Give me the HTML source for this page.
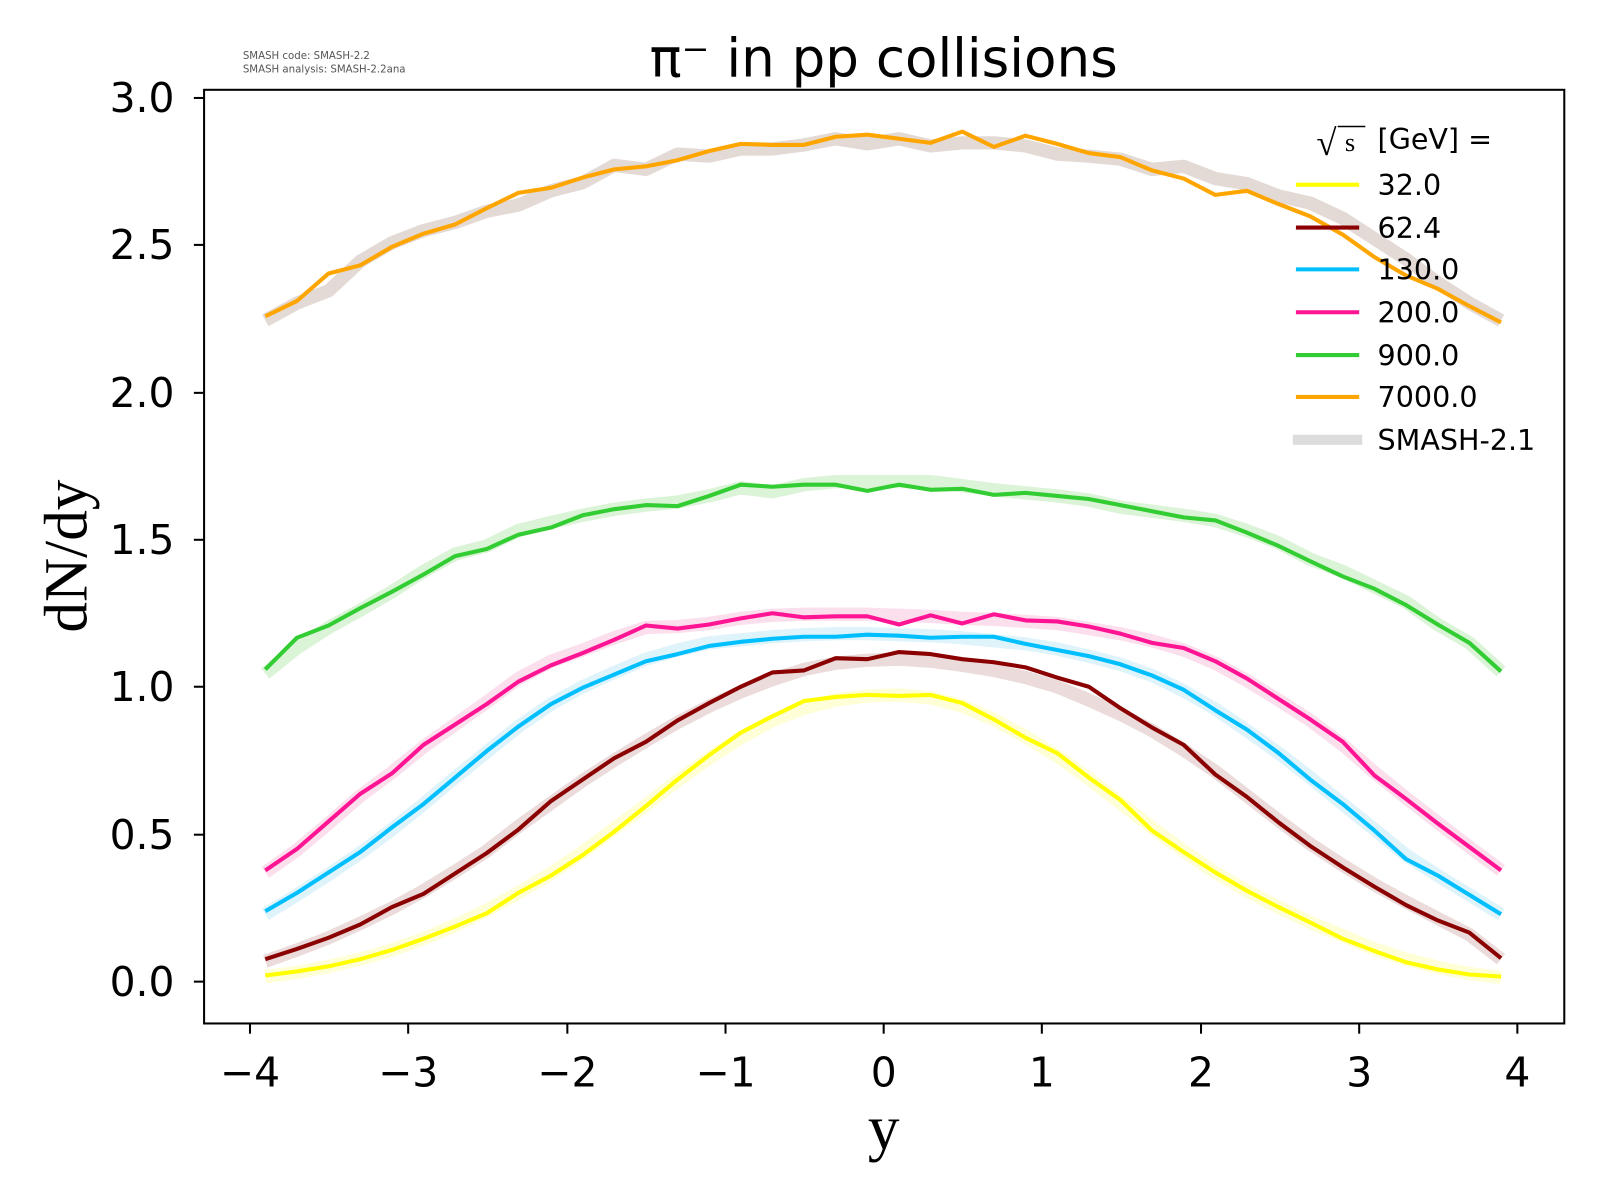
<!DOCTYPE html>
<html><head><meta charset="utf-8"><style>
html,body{margin:0;padding:0;background:#fff;}
svg{display:block;}
text{font-family:"DejaVu Sans","Liberation Sans",sans-serif;}
</style></head><body>
<svg width="1600" height="1200" viewBox="0 0 1568 1176" preserveAspectRatio="none" xmlns="http://www.w3.org/2000/svg">
<rect width="1568" height="1176" fill="#fff"/>
<g fill="none" stroke-linejoin="round" stroke-linecap="butt">
<g stroke-width="13" opacity="0.5">
<polyline stroke="#c8b4ac" points="260,314 291,297 322,285 353,256 384,238 415,226 446,218 477,207 508,201 540,187 571,179 602,162 633,166 664,151 695,153 726,146 757,146 788,142 819,136 850,141 881,136 912,143 943,140 974,140 1005,143 1036,151 1067,153 1098,156 1129,166 1160,163 1191,175 1222,180 1253,192 1284,199 1316,214 1347,234 1378,254 1409,277 1440,297 1471,314"/>
<polyline stroke="#b8e8b0" points="260,660 291,635 322,615 353,598 384,580 415,560 446,543 477,535 508,520 540,512 571,505 602,499 633,495 664,492 695,486 726,478 757,482 788,475 819,472 850,472 881,472 912,472 943,476 974,480 1005,483 1036,486 1067,490 1098,497 1129,501 1160,505 1191,510 1222,520 1253,532 1284,548 1316,560 1347,575 1378,590 1409,612 1440,630 1471,658"/>
<polyline stroke="#f8c0dc" points="260,855 291,833 322,807 353,780 384,757 415,732 446,710 477,688 508,665 540,648 571,637 602,625 633,615 664,614 695,611 726,606 757,603 788,602 819,602 850,602 881,603 912,604 943,606 974,607 1005,609 1036,611 1067,616 1098,621 1129,628 1160,637 1191,650 1222,667 1253,686 1284,706 1316,730 1347,757 1378,782 1409,806 1440,830 1471,853"/>
<polyline stroke="#c0e8f8" points="260,896 291,877 322,857 353,836 384,813 415,788 446,762 477,737 508,712 540,690 571,673 602,659 633,646 664,637 695,630 726,627 757,624 788,622 819,621 850,621 881,622 912,623 943,625 974,628 1005,631 1036,636 1067,643 1098,651 1129,662 1160,677 1191,695 1222,716 1253,738 1284,762 1316,788 1347,813 1378,838 1409,858 1440,877 1471,896"/>
<polyline stroke="#d8b8b8" points="260,942 291,931 322,919 353,905 384,890 415,873 446,854 477,834 508,810 540,787 571,765 602,745 633,726 664,708 695,692 726,678 757,666 788,656 819,650 850,647 881,646 912,648 943,652 974,657 1005,664 1036,673 1067,686 1098,700 1129,716 1160,735 1191,756 1222,780 1253,804 1284,827 1316,848 1347,867 1378,884 1409,900 1440,916 1471,940"/>
<polyline stroke="#ffffb0" points="260,957 291,953 322,947 353,940 384,931 415,920 446,907 477,892 508,875 540,856 571,835 602,812 633,789 664,765 695,743 726,723 757,706 788,694 819,686 850,682 881,681 912,684 943,692 974,705 1005,722 1036,741 1067,763 1098,787 1129,811 1160,834 1191,855 1222,873 1253,889 1284,904 1316,917 1347,930 1378,940 1409,948 1440,954 1471,958"/>
</g>
<g stroke-width="4">
<polyline stroke="#ffff00" points="260,956 291,952 322,947 353,940 384,931 415,920 446,908 477,895 508,875 540,858 571,838 602,815 633,790 664,764 695,740 726,718 757,702 788,687 819,683 850,681 881,682 912,681 943,689 974,705 1005,723 1036,738 1067,762 1098,784 1129,814 1160,835 1191,855 1222,873 1253,889 1284,904 1316,920 1347,932 1378,943 1409,950 1440,955 1471,957"/>
<polyline stroke="#8b0000" points="260,940 291,930 322,919 353,906 384,889 415,876 446,856 477,836 508,813 540,785 571,764 602,743 633,727 664,706 695,689 726,673 757,659 788,657 819,645 850,646 881,639 912,641 943,646 974,649 1005,654 1036,664 1067,673 1098,694 1129,713 1160,730 1191,759 1222,781 1253,806 1284,829 1316,850 1347,869 1378,887 1409,902 1440,914 1471,939"/>
<polyline stroke="#00bfff" points="260,893 291,875 322,855 353,835 384,811 415,788 446,762 477,736 508,712 540,690 571,674 602,661 633,648 664,641 695,633 726,629 757,626 788,624 819,624 850,622 881,623 912,625 943,624 974,624 1005,631 1036,637 1067,643 1098,651 1129,662 1160,676 1191,696 1222,715 1253,738 1284,764 1316,788 1347,814 1378,842 1409,858 1440,877 1471,896"/>
<polyline stroke="#ff1493" points="260,853 291,832 322,805 353,778 384,758 415,730 446,710 477,690 508,668 540,652 571,640 602,627 633,613 664,616 695,612 726,606 757,601 788,605 819,604 850,604 881,612 912,603 943,611 974,602 1005,608 1036,609 1067,614 1098,621 1129,630 1160,635 1191,648 1222,665 1253,685 1284,705 1316,727 1347,760 1378,783 1409,807 1440,830 1471,853"/>
<polyline stroke="#32cd32" points="260,656 291,625 322,613 353,596 384,580 415,563 446,545 477,538 508,524 540,517 571,505 602,499 633,495 664,496 695,486 726,475 757,477 788,475 819,475 850,481 881,475 912,480 943,479 974,485 1005,483 1036,486 1067,489 1098,495 1129,501 1160,507 1191,510 1222,522 1253,535 1284,550 1316,565 1347,577 1378,593 1409,612 1440,630 1471,658"/>
<polyline stroke="#ffa500" points="260,310 291,295 322,268 353,260 384,242 415,229 446,220 477,204 508,189 540,184 571,174 602,166 633,163 664,157 695,148 726,141 757,142 788,142 819,134 850,132 881,136 912,140 943,129 974,144 1005,133 1036,141 1067,150 1098,154 1129,167 1160,175 1191,191 1222,187 1253,200 1284,212 1316,230 1347,252 1378,270 1409,283 1440,300 1471,316"/>
</g>
</g>
<rect x="200" y="88" width="1333" height="915" fill="none" stroke="#000" stroke-width="2"/>
<g stroke="#000" stroke-width="2">
<line x1="245" y1="1003" x2="245" y2="1013"/><line x1="400" y1="1003" x2="400" y2="1013"/><line x1="556" y1="1003" x2="556" y2="1013"/><line x1="711" y1="1003" x2="711" y2="1013"/><line x1="866" y1="1003" x2="866" y2="1013"/><line x1="1021" y1="1003" x2="1021" y2="1013"/><line x1="1177" y1="1003" x2="1177" y2="1013"/><line x1="1332" y1="1003" x2="1332" y2="1013"/><line x1="1487" y1="1003" x2="1487" y2="1013"/>
<line x1="190" y1="962" x2="200" y2="962"/><line x1="190" y1="818" x2="200" y2="818"/><line x1="190" y1="673" x2="200" y2="673"/><line x1="190" y1="529" x2="200" y2="529"/><line x1="190" y1="385" x2="200" y2="385"/><line x1="190" y1="240" x2="200" y2="240"/><line x1="190" y1="96" x2="200" y2="96"/>
</g>
<g font-size="40" text-anchor="middle" fill="#000">
<text x="245" y="1065">−4</text><text x="400" y="1065">−3</text><text x="556" y="1065">−2</text><text x="711" y="1065">−1</text><text x="866" y="1065">0</text><text x="1021" y="1065">1</text><text x="1177" y="1065">2</text><text x="1332" y="1065">3</text><text x="1487" y="1065">4</text>
</g>
<g font-size="40" text-anchor="end" fill="#000">
<text x="171" y="976">0.0</text><text x="171" y="832">0.5</text><text x="171" y="687">1.0</text><text x="171" y="543">1.5</text><text x="171" y="399">2.0</text><text x="171" y="254">2.5</text><text x="171" y="110">3.0</text>
</g>
<text x="866" y="1126" font-size="62" text-anchor="middle" style="font-family:'Liberation Serif',serif">y</text>
<text transform="translate(85,545) rotate(-90)" font-size="60" text-anchor="middle" style="font-family:'Liberation Serif',serif">dN/dy</text>
<text x="866" y="75" font-size="52" text-anchor="middle">π⁻ in pp collisions</text>
<g font-size="10" fill="#555"><text x="238" y="58">SMASH code:      SMASH-2.2</text><text x="238" y="71">SMASH analysis: SMASH-2.2ana</text></g>
<g font-size="28" fill="#000">
<text x="1290" y="152" style="font-family:'Liberation Serif',serif" font-size="36">√</text>
<line x1="1311" y1="124" x2="1338" y2="124" stroke="#000" stroke-width="1.5"/>
<text x="1318" y="148" style="font-family:'Liberation Serif',serif" font-size="26">s</text>
<text x="1350" y="146">[GeV] =</text>
<line x1="1270" y1="181" x2="1332" y2="181" stroke="#ffff00" stroke-width="4"/><text x="1350" y="191">32.0</text>
<line x1="1270" y1="223" x2="1332" y2="223" stroke="#8b0000" stroke-width="4"/><text x="1350" y="233">62.4</text>
<line x1="1270" y1="264" x2="1332" y2="264" stroke="#00bfff" stroke-width="4"/><text x="1350" y="274">130.0</text>
<line x1="1270" y1="306" x2="1332" y2="306" stroke="#ff1493" stroke-width="4"/><text x="1350" y="316">200.0</text>
<line x1="1270" y1="348" x2="1332" y2="348" stroke="#32cd32" stroke-width="4"/><text x="1350" y="358">900.0</text>
<line x1="1270" y1="389" x2="1332" y2="389" stroke="#ffa500" stroke-width="4"/><text x="1350" y="399">7000.0</text>
<line x1="1267" y1="431" x2="1335" y2="431" stroke="#dcdcdc" stroke-width="10"/><text x="1350" y="441">SMASH-2.1</text>
</g>
</svg>
</body></html>
